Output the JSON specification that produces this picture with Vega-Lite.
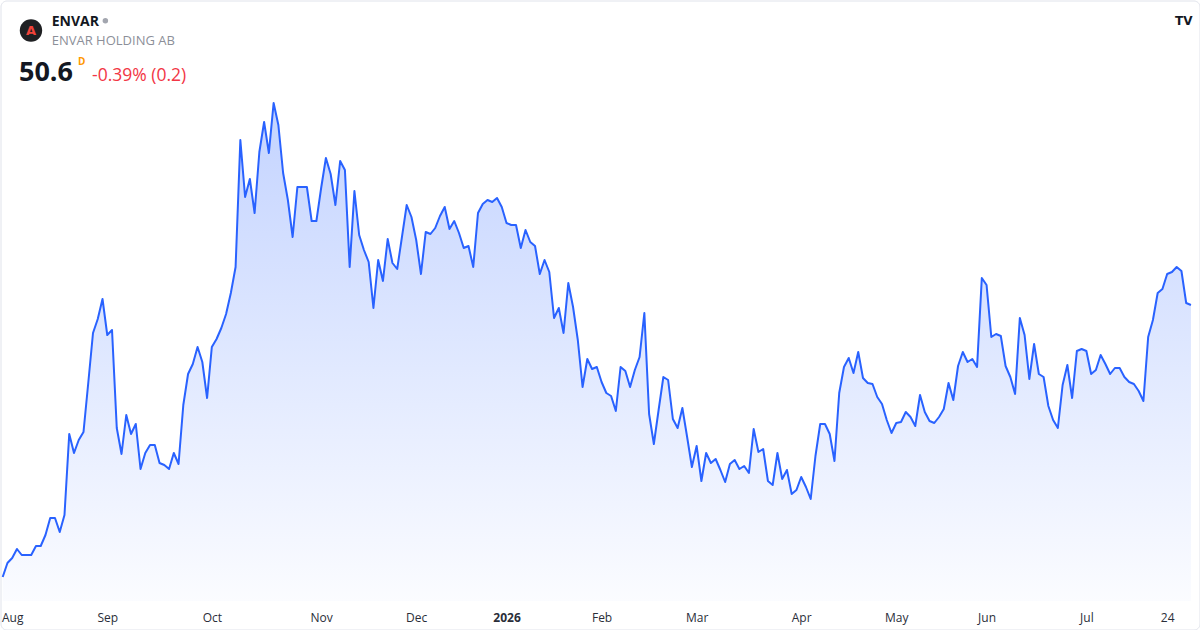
{
  "$schema": "https://vega.github.io/schema/vega-lite/v6.json",
  "width": 1199,
  "height": 629,
  "autosize": {"type": "none"},
  "padding": {"left": 0.5, "top": 0.5, "right": 0.5, "bottom": 0.5},
  "background": "white",
  "config": {
    "font": "Open Sans",
    "view": {"stroke": "#e0e3eb", "strokeWidth": 1, "cornerRadius": 6}
  },
  "datasets": {
    "prices": [
      {"i":-1,"v":23.4},{"i":0,"v":24.8},{"i":1,"v":25.3},{"i":2,"v":26.2},{"i":3,"v":25.6},{"i":4,"v":25.6},{"i":5,"v":25.6},{"i":6,"v":26.5},{"i":7,"v":26.5},{"i":8,"v":27.6},{"i":9,"v":29.3},
      {"i":10,"v":29.3},{"i":11,"v":27.9},{"i":12,"v":29.6},{"i":13,"v":37.7},{"i":14,"v":35.8},{"i":15,"v":37.1},{"i":16,"v":37.9},{"i":17,"v":42.8},{"i":18,"v":47.8},{"i":19,"v":49.2},
      {"i":20,"v":51.2},{"i":21,"v":47.6},{"i":22,"v":48.1},{"i":23,"v":38.3},{"i":24,"v":35.7},{"i":25,"v":39.6},{"i":26,"v":37.7},{"i":27,"v":38.7},{"i":28,"v":34.2},{"i":29,"v":35.8},
      {"i":30,"v":36.6},{"i":31,"v":36.6},{"i":32,"v":34.8},{"i":33,"v":34.6},{"i":34,"v":34.2},{"i":35,"v":35.8},{"i":36,"v":34.7},{"i":37,"v":40.6},{"i":38,"v":43.7},{"i":39,"v":44.7},
      {"i":40,"v":46.4},{"i":41,"v":44.9},{"i":42,"v":41.3},{"i":43,"v":46.4},{"i":44,"v":47.2},{"i":45,"v":48.3},{"i":46,"v":49.7},{"i":47,"v":51.8},{"i":48,"v":54.4},{"i":49,"v":67.1},
      {"i":50,"v":61.4},{"i":51,"v":63.2},{"i":52,"v":59.8},{"i":53,"v":65.9},{"i":54,"v":68.9},{"i":55,"v":65.8},{"i":56,"v":70.8},{"i":57,"v":68.6},{"i":58,"v":63.8},{"i":59,"v":61.1},
      {"i":60,"v":57.4},{"i":61,"v":62.4},{"i":62,"v":62.4},{"i":63,"v":62.4},{"i":64,"v":59.0},{"i":65,"v":59.0},{"i":66,"v":62.3},{"i":67,"v":65.3},{"i":68,"v":63.7},{"i":69,"v":60.6},
      {"i":70,"v":65.0},{"i":71,"v":64.1},{"i":72,"v":54.4},{"i":73,"v":62.0},{"i":74,"v":57.6},{"i":75,"v":56.1},{"i":76,"v":54.9},{"i":77,"v":50.3},{"i":78,"v":55.1},{"i":79,"v":53.0},
      {"i":80,"v":57.2},{"i":81,"v":54.8},{"i":82,"v":54.2},{"i":83,"v":57.4},{"i":84,"v":60.6},{"i":85,"v":59.4},{"i":86,"v":57.1},{"i":87,"v":53.7},{"i":88,"v":57.9},{"i":89,"v":57.7},
      {"i":90,"v":58.3},{"i":91,"v":59.5},{"i":92,"v":60.4},{"i":93,"v":58.2},{"i":94,"v":59.0},{"i":95,"v":57.8},{"i":96,"v":56.3},{"i":97,"v":56.5},{"i":98,"v":54.4},{"i":99,"v":59.8},
      {"i":100,"v":60.7},{"i":101,"v":61.1},{"i":102,"v":60.9},{"i":103,"v":61.3},{"i":104,"v":60.4},{"i":105,"v":58.8},{"i":106,"v":58.6},{"i":107,"v":58.6},{"i":108,"v":56.3},{"i":109,"v":58.1},
      {"i":110,"v":56.9},{"i":111,"v":56.5},{"i":112,"v":53.7},{"i":113,"v":55.1},{"i":114,"v":53.9},{"i":115,"v":49.3},{"i":116,"v":50.3},{"i":117,"v":47.8},{"i":118,"v":52.8},{"i":119,"v":50.4},
      {"i":120,"v":47.1},{"i":121,"v":42.4},{"i":122,"v":45.2},{"i":123,"v":44.2},{"i":124,"v":44.4},{"i":125,"v":42.9},{"i":126,"v":41.8},{"i":127,"v":41.5},{"i":128,"v":40.0},{"i":129,"v":44.4},
      {"i":130,"v":44.0},{"i":131,"v":42.4},{"i":132,"v":44.1},{"i":133,"v":45.4},{"i":134,"v":49.8},{"i":135,"v":39.7},{"i":136,"v":36.7},{"i":137,"v":40.1},{"i":138,"v":43.4},{"i":139,"v":43.1},
      {"i":140,"v":39.2},{"i":141,"v":38.3},{"i":142,"v":40.3},{"i":143,"v":37.4},{"i":144,"v":34.4},{"i":145,"v":36.5},{"i":146,"v":33.0},{"i":147,"v":35.8},{"i":148,"v":34.8},{"i":149,"v":35.2},
      {"i":150,"v":34.1},{"i":151,"v":32.9},{"i":152,"v":34.7},{"i":153,"v":35.1},{"i":154,"v":34.2},{"i":155,"v":34.5},{"i":156,"v":33.8},{"i":157,"v":38.2},{"i":158,"v":35.9},{"i":159,"v":36.2},
      {"i":160,"v":33.0},{"i":161,"v":32.6},{"i":162,"v":35.8},{"i":163,"v":33.2},{"i":164,"v":34.1},{"i":165,"v":31.7},{"i":166,"v":32.1},{"i":167,"v":33.4},{"i":168,"v":32.4},{"i":169,"v":31.2},
      {"i":170,"v":35.5},{"i":171,"v":38.7},{"i":172,"v":38.7},{"i":173,"v":37.7},{"i":174,"v":35.0},{"i":175,"v":41.8},{"i":176,"v":44.4},{"i":177,"v":45.3},{"i":178,"v":43.8},{"i":179,"v":45.9},
      {"i":180,"v":43.3},{"i":181,"v":42.8},{"i":182,"v":42.7},{"i":183,"v":41.4},{"i":184,"v":40.7},{"i":185,"v":39.1},{"i":186,"v":37.8},{"i":187,"v":38.8},{"i":188,"v":38.9},{"i":189,"v":39.9},
      {"i":190,"v":39.4},{"i":191,"v":38.5},{"i":192,"v":41.6},{"i":193,"v":39.9},{"i":194,"v":39.0},{"i":195,"v":38.8},{"i":196,"v":39.4},{"i":197,"v":40.2},{"i":198,"v":42.8},{"i":199,"v":41.1},
      {"i":200,"v":44.5},{"i":201,"v":45.9},{"i":202,"v":44.9},{"i":203,"v":45.2},{"i":204,"v":44.4},{"i":205,"v":53.3},{"i":206,"v":52.6},{"i":207,"v":47.4},{"i":208,"v":47.7},{"i":209,"v":47.5},
      {"i":210,"v":44.5},{"i":211,"v":43.4},{"i":212,"v":41.7},{"i":213,"v":49.3},{"i":214,"v":47.6},{"i":215,"v":43.2},{"i":216,"v":46.7},{"i":217,"v":43.7},{"i":218,"v":43.4},{"i":219,"v":40.5},
      {"i":220,"v":39.1},{"i":221,"v":38.3},{"i":222,"v":42.6},{"i":223,"v":44.6},{"i":224,"v":41.3},{"i":225,"v":46.0},{"i":226,"v":46.2},{"i":227,"v":46.0},{"i":228,"v":43.7},{"i":229,"v":44.1},
      {"i":230,"v":45.6},{"i":231,"v":44.7},{"i":232,"v":43.7},{"i":233,"v":44.3},{"i":234,"v":44.3},{"i":235,"v":43.4},{"i":236,"v":42.9},{"i":237,"v":42.7},{"i":238,"v":42.0},{"i":239,"v":41.0},
      {"i":240,"v":47.4},{"i":241,"v":49.1},{"i":242,"v":51.8},{"i":243,"v":52.2},{"i":244,"v":53.7},{"i":245,"v":53.9},{"i":246,"v":54.4},{"i":247,"v":54.0},{"i":248,"v":50.8},{"i":249,"v":50.6}
    ]
  },
  "layer": [
    {
      "data": {"name": "prices"},
      "mark": {
        "type": "area",
        "color": {
          "x1": 0, "y1": 0, "x2": 0, "y2": 1,
          "gradient": "linear",
          "stops": [
            {"offset": 0, "color": "rgba(41,98,255,0.28)"},
            {"offset": 1, "color": "rgba(41,98,255,0.02)"}
          ]
        }
      },
      "encoding": {
        "x": {
          "field": "i", "type": "quantitative",
          "scale": {"domain": [-1.462, 250.8], "nice": false, "zero": false},
          "axis": {
            "title": null, "grid": false, "domain": false, "ticks": false, "tickSize": 0,
            "values": [0, 21, 43, 66, 86, 105, 125, 145, 167, 187, 206, 227, 244],
            "labelExpr": "['Aug','Sep','Oct','Nov','Dec','2026','Feb','Mar','Apr','May','Jun','Jul','24'][indexof([0,21,43,66,86,105,125,145,167,187,206,227,244], datum.value)]",
            "labelFontSize": 12,
            "labelColor": "#2a2e39",
            "labelFont": "Open Sans",
            "labelFontWeight": {"condition": {"test": "datum.value == 105", "value": "bold"}, "value": "normal"},
            "labelBaseline": "alphabetic",
            "labelPadding": -8.5,
            "labelOverlap": false,
            "labelFlush": 10,
            "labelFlushOffset": 6
          }
        },
        "y": {
          "field": "v", "type": "quantitative",
          "scale": {"domain": [18.15, 81.05], "nice": false, "zero": false},
          "axis": null
        },
        "y2": {"datum": 21.0}
      }
    },
    {
      "data": {"name": "prices"},
      "mark": {"type": "line", "color": "#2962ff", "strokeWidth": 2, "strokeJoin": "round"},
      "encoding": {
        "x": {"field": "i", "type": "quantitative"},
        "y": {"field": "v", "type": "quantitative", "axis": null}
      }
    },
    {
      "data": {"values": [{"label": "logo"}]},
      "mark": {"type": "point", "filled": true, "color": "#1f2023", "size": 500, "opacity": 1},
      "encoding": {
        "x": {"datum": 4.95, "type": "quantitative"},
        "y": {"datum": 78.05, "type": "quantitative", "axis": null}
      }
    },
    {
      "data": {"values": [{"label": "A"}]},
      "mark": {"type": "text", "color": "#f0433a", "fontSize": 13, "fontWeight": "bold", "align": "center", "baseline": "middle", "font": "DejaVu Sans"},
      "encoding": {
        "x": {"datum": 4.95, "type": "quantitative"},
        "y": {"datum": 78.0, "type": "quantitative", "axis": null},
        "text": {"field": "label"}
      }
    },
    {
      "data": {"values": [{"label": "ENVAR"}]},
      "mark": {"type": "text", "color": "#131722", "fontSize": 14, "fontWeight": "bold", "align": "left", "baseline": "alphabetic"},
      "encoding": {
        "x": {"datum": 9.31, "type": "quantitative"},
        "y": {"datum": 78.5, "type": "quantitative", "axis": null},
        "text": {"field": "label"}
      }
    },
    {
      "data": {"values": [{"label": "status"}]},
      "mark": {"type": "point", "filled": true, "color": "#a3a6af", "size": 30, "opacity": 1},
      "encoding": {
        "x": {"datum": 20.6, "type": "quantitative"},
        "y": {"datum": 79.03, "type": "quantitative", "axis": null}
      }
    },
    {
      "data": {"values": [{"label": "ENVAR HOLDING AB"}]},
      "mark": {"type": "text", "color": "#8c8f99", "fontSize": 13, "align": "left", "baseline": "alphabetic"},
      "encoding": {
        "x": {"datum": 9.31, "type": "quantitative"},
        "y": {"datum": 76.6, "type": "quantitative", "axis": null},
        "text": {"field": "label"}
      }
    },
    {
      "data": {"values": [{"label": "50.6"}]},
      "mark": {"type": "text", "color": "#131722", "fontSize": 27, "fontWeight": "bold", "align": "left", "baseline": "alphabetic"},
      "encoding": {
        "x": {"datum": 2.43, "type": "quantitative"},
        "y": {"datum": 73.0, "type": "quantitative", "axis": null},
        "text": {"field": "label"}
      }
    },
    {
      "data": {"values": [{"label": "D"}]},
      "mark": {"type": "text", "color": "#ff9800", "fontSize": 10, "fontWeight": "bold", "align": "left", "baseline": "alphabetic"},
      "encoding": {
        "x": {"datum": 14.84, "type": "quantitative"},
        "y": {"datum": 74.6, "type": "quantitative", "axis": null},
        "text": {"field": "label"}
      }
    },
    {
      "data": {"values": [{"label": "-0.39% (0.2)"}]},
      "mark": {"type": "text", "color": "#f23645", "fontSize": 17.5, "align": "left", "baseline": "alphabetic"},
      "encoding": {
        "x": {"datum": 17.79, "type": "quantitative"},
        "y": {"datum": 73.0, "type": "quantitative", "axis": null},
        "text": {"field": "label"}
      }
    },
    {
      "data": {"values": [{"label": "TV"}]},
      "mark": {"type": "text", "color": "#131722", "fontSize": 12, "fontWeight": 900, "align": "center", "baseline": "middle", "font": "DejaVu Sans"},
      "encoding": {
        "x": {"datum": 247.5, "type": "quantitative"},
        "y": {"datum": 79.0, "type": "quantitative", "axis": null},
        "text": {"field": "label"}
      }
    }
  ]
}
